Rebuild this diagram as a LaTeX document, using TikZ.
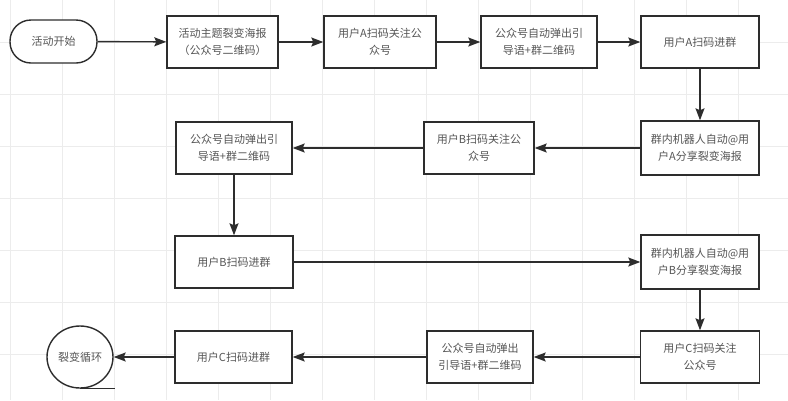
\documentclass[tikz,border=0pt]{standalone}
\usepackage{fontspec}
\setmainfont{Noto Sans CJK SC}
\definecolor{edge}{RGB}{45,45,45}
\definecolor{ink}{RGB}{85,85,85}
\definecolor{paper}{RGB}{236,236,236}
\usetikzlibrary{arrows.meta}
\usetikzlibrary{shapes.geometric}

\begin{document}
\begin{tikzpicture}[x=1pt,y=-1pt,
    box/.style={draw=edge,line width=1.4pt,fill=white,align=center,text=ink,font=\fontsize{11}{17}\selectfont,minimum height=52pt,inner sep=2pt},
    flow/.style={draw=edge,line width=1.4pt,-{Stealth[length=12pt,width=9pt,inset=2pt]}}]
    \useasboundingbox[fill=white] (0,0) rectangle (788,400);
    \foreach \gx in {10,62,...,738} \draw[paper,line width=0.8pt] (\gx,0) -- (\gx,400);
    \foreach \gy in {42,94,...,354} \draw[paper,line width=0.8pt] (0,\gy) -- (788,\gy);

    \node[box,rounded corners=21pt,minimum width=87pt,minimum height=43pt] (start) at (53.5,41.5) {活动开始};
    \node[box,minimum width=111pt] (posterA) at (222.5,42) {活动主题裂变海报\\（公众号二维码）};
    \node[box,minimum width=112pt] (followA) at (380,42) {用户A扫码关注公\\众号};
    \node[box,minimum width=116pt] (popA) at (539,42) {公众号自动弹出引\\导语+群二维码};
    \node[box,minimum width=118pt] (joinA) at (700,42) {用户A扫码进群};

    \node[box,minimum width=118pt,minimum height=54pt] (botA) at (700,148) {群内机器人自动@用\\户A分享裂变海报};
    \node[box,minimum width=110pt] (followB) at (479,148) {用户B扫码关注公\\众号};
    \node[box,minimum width=116pt] (popB) at (234,148) {公众号自动弹出引\\导语+群二维码};

    \node[box,minimum width=118pt] (joinB) at (234,262) {用户B扫码进群};
    \node[box,minimum width=118pt,minimum height=54pt] (botB) at (700,262) {群内机器人自动@用\\户B分享裂变海报};

    \node[box,minimum width=119pt] (followC) at (700,357) {用户C扫码关注\\公众号};
    \node[box,minimum width=106pt] (popC) at (480,357) {公众号自动弹出\\引导语+群二维码};
    \node[box,minimum width=117pt] (joinC) at (233.5,357) {用户C扫码进群};
    \node[box,ellipse,minimum width=66pt,minimum height=62pt,inner sep=0pt] (loopC) at (80,357) {裂变循环};
    \draw[draw=edge,line width=1.4pt] (loopC.south) -- ++(35,0);

    \draw[flow] (start) -- (posterA);
    \draw[flow] (posterA) -- (followA);
    \draw[flow] (followA) -- (popA);
    \draw[flow] (popA) -- (joinA);
    \draw[flow] (joinA) -- (botA);
    \draw[flow] (botA) -- (followB);
    \draw[flow] (followB) -- (popB);
    \draw[flow] (popB) -- (joinB);
    \draw[flow] (joinB) -- (botB);
    \draw[flow] (botB) -- (followC);
    \draw[flow] (followC) -- (popC);
    \draw[flow] (popC) -- (joinC);
    \draw[flow] (joinC) -- (loopC);
\end{tikzpicture}
\end{document}
